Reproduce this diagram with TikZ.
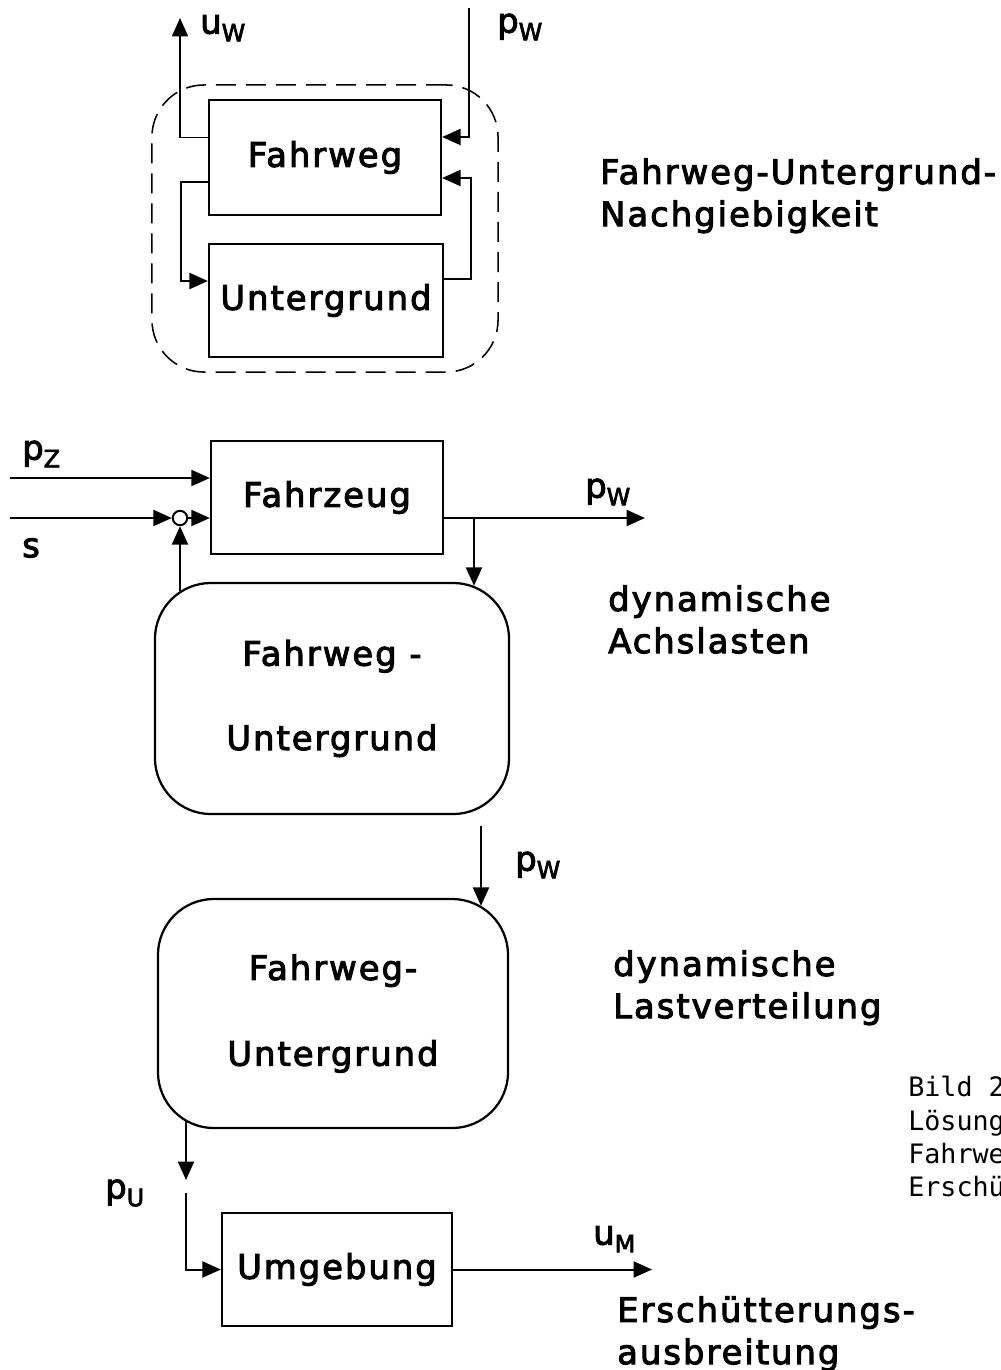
\documentclass[tikz,border=0pt]{standalone}
\usepackage{fontspec}
\setmainfont[LetterSpace=6,FakeBold=3]{DejaVu Sans}
\newfontfamily\capfont{DejaVu Sans Mono}
\usepackage{tikz}
\usetikzlibrary{arrows.meta,positioning,calc}

\newcommand{\diagfont}{\fontsize{24}{30}\selectfont}
\newcommand{\idx}[1]{\raisebox{-5.5pt}{\fontsize{17}{20}\selectfont #1}}

\begin{document}
\begin{tikzpicture}[
    x=0.025cm, y=-0.025cm,
    box/.style={draw, rectangle, line width=1.6pt, font=\diagfont, inner sep=0pt},
    rbox/.style={draw, rectangle, rounded corners=1.4cm, line width=1.6pt, font=\diagfont, align=center, inner sep=0pt},
    grp/.style={draw, dash pattern=on 0.5cm off 0.25cm, rounded corners=1.3cm, line width=1.1pt},
    sumpt/.style={draw, circle, line width=1.4pt, minimum size=0.36cm, inner sep=0pt},
    lbl/.style={anchor=west, inner sep=0pt, font=\diagfont},
    note/.style={anchor=north west, align=left, inner sep=0pt, font=\diagfont},
    arrow/.style={-{Triangle[length=0.46cm,width=0.4cm]}, line width=1.4pt}
]
    \useasboundingbox (0,0) rectangle (1001,1370);

    % Fahrweg-Untergrund-Nachgiebigkeit (top)
    \node [grp, minimum width=8.65cm, minimum height=7.175cm] (nachg) at (325,228.5) {};
    \node [box, minimum width=5.8cm, minimum height=2.875cm] (fahrweg) at (325,157.5) {Fahrweg};
    \node [box, minimum width=5.85cm, minimum height=2.825cm] (untergrund) at (326,300.5) {Untergrund};
    \coordinate (uwtop) at (180,18);
    \coordinate (pwtop) at (469,8);

    \draw [arrow] ($(fahrweg.west)+(0,-20)$) -| (uwtop);
    \draw [arrow] ($(fahrweg.west)+(0,24.5)$) -- ++(-27,0) |- ($(untergrund.west)+(0,-19.5)$);
    \draw [arrow] (pwtop) |- ($(fahrweg.east)+(0,-20.5)$);
    \draw [arrow] ($(untergrund.east)+(0,-21.5)$) -- ++(27,0) |- ($(fahrweg.east)+(0,20.5)$);

    \node [lbl] (uw) at (200,28) {u\idx{W}};
    \node [lbl] (pw1) at (497,27) {p\idx{W}};
    \node [note] (txt1) at (600,158) {Fahrweg-Untergrund-\\Nachgiebigkeit};

    % dynamische Achslasten
    \node [box, minimum width=5.8cm, minimum height=2.825cm] (fahrzeug) at (327,497.5) {Fahrzeug};
    \node [sumpt] (sum) at (180,518) {};
    \node [rbox, minimum width=8.85cm, minimum height=5.775cm] (fu1) at (332,698.5) {Fahrweg -\\[30pt]Untergrund};
    \coordinate (pzin) at (10,478);
    \coordinate (sin) at (10,518);
    \coordinate (pwout) at (645,518);
    \coordinate (br) at (474,518);

    \draw [arrow] (pzin) -- (pzin -| fahrzeug.west);
    \draw [arrow] (sin) -- (sum);
    \draw [arrow] (sum) -- (sum -| fahrzeug.west);
    \draw [arrow] (fahrzeug.east |- pwout) -- (pwout);
    \draw [arrow] (br) -- ($(br |- fu1.north)+(0,4)$);
    \draw [arrow] ($(fu1.north -| sum)+(0,9)$) -- (sum);

    \node [lbl] (pz) at (22,454) {p\idx{Z}};
    \node [lbl] (s) at (22,548) {s};
    \node [lbl] (pw2) at (585,492) {p\idx{W}};
    \node [note] (txt2) at (608,585) {dynamische\\Achslasten};

    % dynamische Lastverteilung
    \node [rbox, minimum width=8.75cm, minimum height=5.725cm] (fu2) at (333,1013.5) {Fahrweg-\\[31pt]Untergrund};
    \coordinate (pwmid) at (481,826);
    \draw [arrow] (pwmid) -- ($(pwmid |- fu2.north)+(0,8)$);
    \node [lbl] (pw3) at (515,865) {p\idx{W}};
    \node [note] (txt3) at (613,950) {dynamische\\Lastverteilung};

    % Erschuetterungsausbreitung
    \node [box, minimum width=5.75cm, minimum height=2.825cm] (umgebung) at (337,1269.5) {Umgebung};
    \coordinate (puend) at (186,1180);
    \coordinate (pustart) at (186,1193);
    \coordinate (umout) at (652,1269);
    \draw [arrow] ($(puend |- fu2.south)+(0,-8)$) -- (puend);
    \draw [arrow] (pustart) |- (umgebung.west);
    \draw [arrow] (umgebung.east) -- (umgebung.east -| umout);
    \node [lbl] (pu) at (105,1193) {p\idx{U}};
    \node [lbl] (um) at (593,1239) {u\idx{M}};
    \node [note] (txt4) at (617,1296) {Erschütterungs-\\ausbreitung};

    % caption (cut at the right edge)
    \node [anchor=north west, align=left, inner sep=0pt, font=\capfont\fontsize{19}{23.7}\selectfont] (bild) at (908,1076) {Bild 2\\Lösung\\Fahrwe\\Erschü};
\end{tikzpicture}
\end{document}
